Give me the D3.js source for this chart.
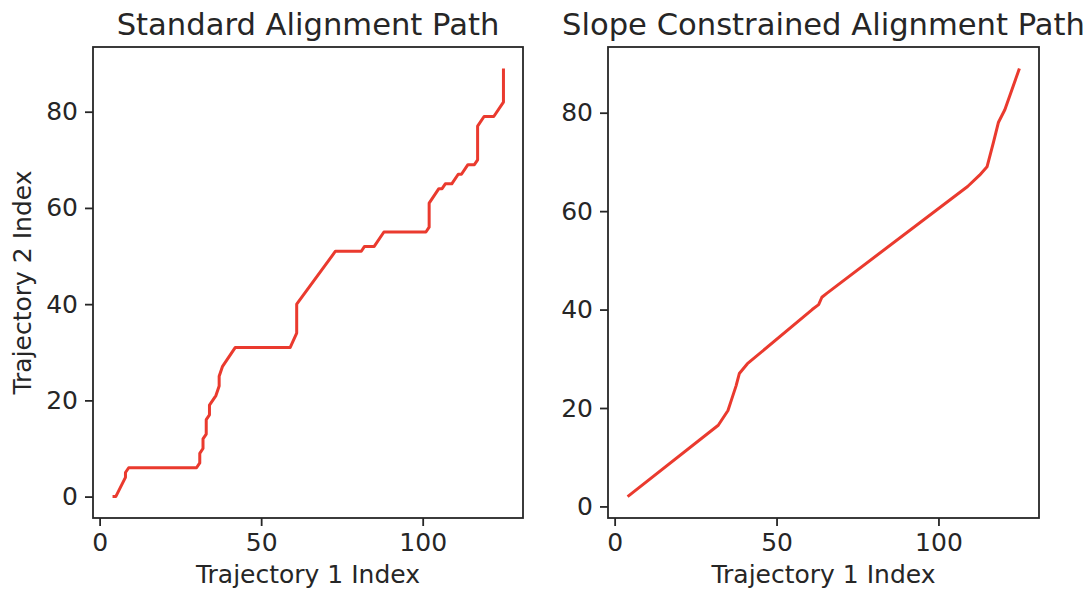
<!DOCTYPE html>
<html>
<head>
<meta charset="utf-8">
<script src="https://cdn.jsdelivr.net/npm/d3@7"></script>
<style>
  body { margin: 0; background: #fff; }
  svg { font-family: "DejaVu Sans", sans-serif; }
  .tick text { fill: #262626; }
</style>
</head>
<body>
<div id="chart"></div>
<script>
// Standard DTW path (corner points)
var stdX = [4, 5, 8, 8, 9, 30, 31, 31, 32, 32, 33, 33, 34, 34, 36, 37, 37, 38, 42, 59, 61, 61, 73, 81, 82, 85, 88, 101, 102, 102, 105, 106, 107, 109, 111, 112, 114, 116, 117, 117, 119, 122, 125, 125];
var stdY = [0, 0, 4, 5, 6, 6, 7, 9, 10, 12, 13, 16, 17, 19, 21, 23, 25, 27, 31, 31, 34, 40, 51, 51, 52, 52, 55, 55, 56, 61, 64, 64, 65, 65, 67, 67, 69, 69, 70, 77, 79, 79, 82, 89];

// Slope constrained path
var slopeX = [4, 32, 35, 36, 37.5, 38.5, 41, 61, 63, 64, 65.5, 109, 112.7, 115, 117, 118.5, 120.5, 125];
var slopeY = [2, 16.5, 19.5, 21.5, 24.5, 27, 29, 40, 41, 42.5, 43.3, 65, 67.3, 69, 74, 78, 80.6, 89];

var xTicks = [0, 50, 100];
var yTicks = [0, 20, 40, 60, 80];

var titles = ["Standard Alignment Path", "Slope Constrained Alignment Path"];
var xLabel = "Trajectory 1 Index";
var yLabel = "Trajectory 2 Index";

var W = 1087, H = 589;
var svg = d3.select("#chart").append("svg")
	.attr("width", W)
	.attr("height", H);

// pad a data extent by 5% each side, like matplotlib does
function padded(vals) {
	var e = d3.extent(vals);
	var m = (e[1] - e[0]) * 0.05;
	return [e[0] - m, e[1] + m];
}

function drawPanel(box, xs, ys, title, showYLabel) {
	var x = d3.scaleLinear().domain(padded(xs)).range([box.left, box.right]);
	var y = d3.scaleLinear().domain(padded(ys)).range([box.bottom, box.top]);

	var pts = xs.map(function (v, i) { return [v, ys[i]]; });

	var line = d3.line()
		.x(function (d) { return x(d[0]); })
		.y(function (d) { return y(d[1]); });

	svg.append("path")
		.datum(pts)
		.attr("d", line)
		.attr("fill", "none")
		.attr("stroke", "#ea3a2e")
		.attr("stroke-width", 3)
		.attr("stroke-linejoin", "round")
		.attr("stroke-linecap", "butt");

	var gx = svg.append("g")
		.attr("transform", "translate(0," + box.bottom + ")")
		.call(d3.axisBottom(x).tickValues(xTicks).tickSize(8).tickPadding(7).tickFormat(d3.format("d")));
	var gy = svg.append("g")
		.attr("transform", "translate(" + box.left + ",0)")
		.call(d3.axisLeft(y).tickValues(yTicks).tickSize(8).tickPadding(7).tickFormat(d3.format("d")));

	[gx, gy].forEach(function (g) {
		g.select(".domain").remove();
		g.selectAll(".tick line").attr("stroke", "#262626").attr("stroke-width", 1.8);
		g.selectAll(".tick text").attr("font-size", 25).attr("font-family", "DejaVu Sans");
	});

	// frame
	svg.append("rect")
		.attr("x", box.left)
		.attr("y", box.top)
		.attr("width", box.right - box.left)
		.attr("height", box.bottom - box.top)
		.attr("fill", "none")
		.attr("stroke", "#262626")
		.attr("stroke-width", 1.8);

	var cx = (box.left + box.right) / 2;
	svg.append("text")
		.attr("x", cx)
		.attr("y", 35)
		.attr("text-anchor", "middle")
		.attr("font-size", 30.6)
		.attr("fill", "#262626")
		.text(title);

	svg.append("text")
		.attr("x", cx)
		.attr("y", 583)
		.attr("text-anchor", "middle")
		.attr("font-size", 25)
		.attr("fill", "#262626")
		.text(xLabel);

	if (showYLabel) {
		var cy = (box.top + box.bottom) / 2;
		svg.append("text")
			.attr("transform", "translate(31," + cy + ") rotate(-90)")
			.attr("text-anchor", "middle")
			.attr("font-size", 25)
			.attr("fill", "#262626")
			.text(yLabel);
	}
}

drawPanel({ left: 93, right: 523, top: 47, bottom: 518 }, stdX, stdY, titles[0], true);
drawPanel({ left: 608, right: 1039, top: 47, bottom: 518 }, slopeX, slopeY, titles[1], false);
</script>
</body>
</html>
